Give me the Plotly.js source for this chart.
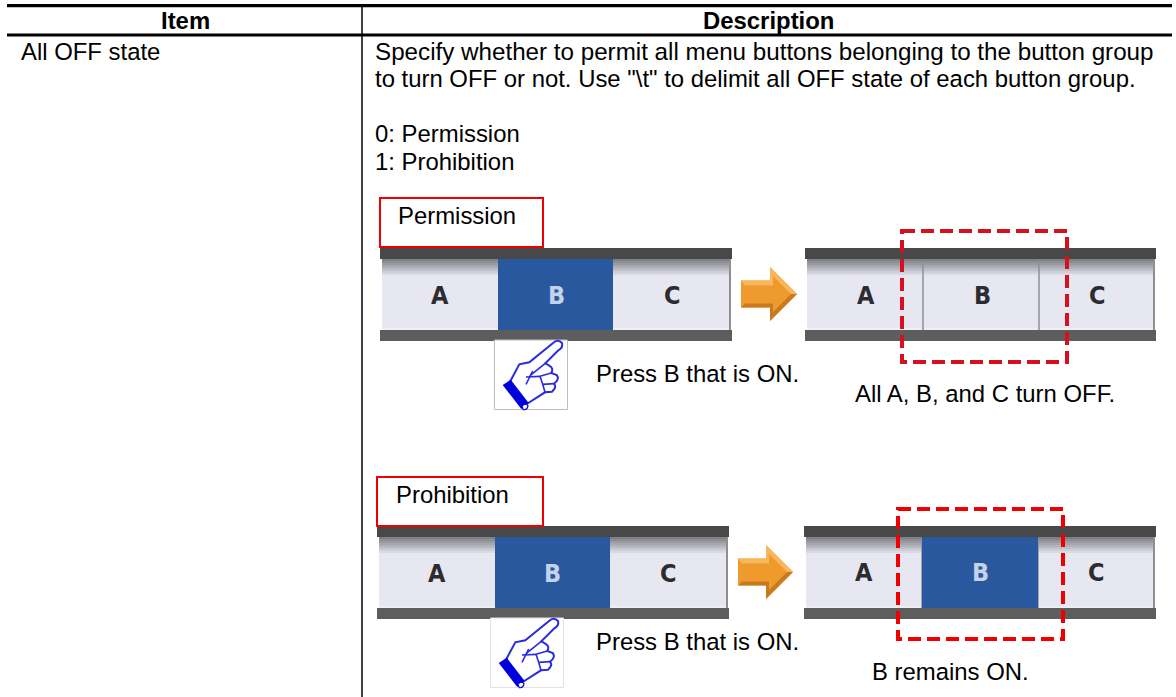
<!DOCTYPE html>
<html>
<head>
<meta charset="utf-8">
<script src="https://cdn.plot.ly/plotly-3.0.1.min.js"></script>
<style>html,body{margin:0;padding:0;background:#fff}#c{width:1176px;height:697px}</style>
</head>
<body>
<div id="c"></div>
<script>
// ---- content ----
const headerLabels = ["Item", "Description"];
const itemLabels = ["All OFF state"];
const descriptionLines = [
  "Specify whether to permit all menu buttons belonging to the button group",
  "to turn OFF or not. Use \"\\t\" to delimit all OFF state of each button group.",
  "0: Permission",
  "1: Prohibition"
];
const caseLabels = ["Permission", "Prohibition"];
const buttonLabels = ["A", "B", "C"];
const pressLabel = "Press B that is ON.";
const resultLabels = ["All A, B, and C turn OFF.", "B remains ON."];

// ---- drawing helpers ----
const shapes = [], annotations = [];
const FONT = "Liberation Sans, Arial, sans-serif";
function rect(x0, y0, x1, y1, fill, line, width, dash) {
  shapes.push({type:"rect", xref:"x", yref:"y", x0, y0, x1, y1,
    fillcolor: fill || "rgba(0,0,0,0)",
    line: {color: line || "rgba(0,0,0,0)", width: line ? (width || 1) : 0, dash: dash || "solid"}});
}
function seg(x0, y0, x1, y1, color, width) {
  shapes.push({type:"line", xref:"x", yref:"y", x0, y0, x1, y1, line:{color, width}});
}
function path(d, fill, line, width) {
  shapes.push({type:"path", xref:"x", yref:"y", path:d,
    fillcolor: fill || "rgba(0,0,0,0)",
    line: {color: line || "rgba(0,0,0,0)", width: line ? (width || 1) : 0}});
}
function text(str, x, y, opts) {
  opts = opts || {};
  annotations.push({xref:"x", yref:"y", x, y, text:str, showarrow:false, borderpad:0, borderwidth:0,
    xanchor: opts.anchor || "left", yanchor:"middle",
    font:{family: opts.family || FONT, size: opts.size || 23.9, color: opts.color || "#000"}});
}
function mix(a, b, t) {
  const r = a.map((v, i) => Math.round(v + (b[i] - v) * t));
  return "rgb(" + r.join(",") + ")";
}

function button(x0, x1, y0, y1) {
  rect(x0, y0, x1, y1, "#e6e7f0");
  const steps = 9;
  for (let i = 0; i < steps; i++) {
    rect(x0, y0 + i * 2, x1, y0 + (i + 1) * 2, mix([128,129,134], [230,231,240], i / (steps - 1)));
  }
  seg(x0, y1 - 1, x1, y1 - 1, "#f6f6fa", 1);
}
function bar(x0, x1, y0, seps, on) {
  rect(x0, y0, x1, y0 + 11, "#484848");
  rect(x0, y0 + 82, x1, y0 + 93, "#5d5d5d");
  const edges = [x0 + 2].concat(seps, [x1 - 3]);
  for (let i = 0; i < 3; i++) {
    const a = edges[i], b = edges[i + 1];
    if (on && i === 1) rect(a, y0 + 11, b, y0 + 82, "#2a589f");
    else button(a, b, y0 + 11, y0 + 82);
  }
  if (!on) seps.forEach(s => seg(s, y0 + 12, s, y0 + 82, "#8e8f96", 1.5));
  rect(x1 - 3, y0 + 11, x1 - 1, y0 + 82, "#8e8f96");
}
function arrow(x0, yc, tip) {
  const sx = tip - 27, h = 27, s = 13.5;
  path(`M ${x0} ${yc-s} L ${sx} ${yc-s} L ${sx} ${yc-h} L ${tip} ${yc} L ${sx} ${yc+h} L ${sx} ${yc+s} L ${x0} ${yc+s} Z`, "#ef9a2d");
  path(`M ${x0} ${yc-s} L ${sx} ${yc-s} L ${sx} ${yc-h} L ${tip} ${yc} L ${tip-6} ${yc} L ${sx+3} ${yc-h+9} L ${sx+3} ${yc-s+5} L ${x0+4} ${yc-s+5} Z`, "#f7b75a");
  path(`M ${x0} ${yc+s} L ${sx} ${yc+s} L ${sx} ${yc+h} L ${tip} ${yc} L ${tip-6} ${yc} L ${sx+3} ${yc+h-9} L ${sx+3} ${yc+s-4} L ${x0+4} ${yc+s-4} Z`, "#c97a20");
}
function hand(ox, oy, boxColor) {
  // Outline points are written at 3x relative to the icon's corner.
  const p = (x, y) => (ox + x / 3).toFixed(1) + " " + (oy + y / 3).toFixed(1);
  rect(ox + 4.5, oy + 5, ox + 77.5, oy + 74.5, "#ffffff", boxColor, 1);
  const blue = "#2a2adf";
  path(`M ${p(60,140)} L ${p(88,88)} L ${p(118,82)} L ${p(192,22)} Q ${p(205,12)} ${p(216,24)} Q ${p(220,38)} ${p(205,46)} L ${p(166,85)} ` +
       `L ${p(178,92)} Q ${p(192,100)} ${p(184,114)} L ${p(200,120)} Q ${p(210,132)} ${p(192,146)} Q ${p(202,156)} ${p(186,170)} ` +
       `L ${p(165,172)} L ${p(110,207)} Z`, "#ffffff", blue, 2);
  [[[120,122],[166,85]], [[128,108],[108,148]], [[108,126],[150,124]], [[150,124],[184,114]],
   [[150,124],[158,148]], [[158,148],[192,146]], [[158,148],[165,172]]].forEach(l => {
    seg(ox + l[0][0]/3, oy + l[0][1]/3, ox + l[1][0]/3, oy + l[1][1]/3, blue, 1.6);
  });
  path(`M ${p(38,150)} L ${p(62,134)} L ${p(116,204)} L ${p(94,222)} Z`, "#0000dc");
  path(`M ${p(96,214)} Q ${p(105,202)} ${p(114,212)} Q ${p(112,226)} ${p(100,224)} Z`, "#ffffff", "#0000dc", 1.2);
}

// ---- table rules ----
seg(7, 5.6, 1172, 5.6, "#000", 3.3);
seg(7, 35, 1172, 35, "#000", 3.2);
seg(362, 5, 362, 697, "#000", 1.5);
text("<b>" + headerLabels[0] + "</b>", 185, 20, {anchor:"center"});
text("<b>" + headerLabels[1] + "</b>", 768.5, 20, {anchor:"center"});
text(itemLabels[0], 21, 51);
text(descriptionLines[0], 375, 51, {size:24.2});
text(descriptionLines[1], 375, 78);
text(descriptionLines[2], 375, 133);
text(descriptionLines[3], 375, 161);

// ---- first case ----
bar(380, 732, 248, [498, 613], true);
bar(805, 1156, 248, [923, 1039], false);
arrow(741, 294, 797);
rect(380, 198, 543, 247, "rgba(0,0,0,0)", "#f00000", 2);
hand(490, 335, "#bdbdbd");
rect(902, 231, 1067, 362, "rgba(0,0,0,0)", "#d7101f", 4, "13px,6px");

// ---- second case ----
bar(377, 729, 526, [495, 610], true);
bar(804, 1156, 526, [922, 1038], false);
rect(922, 537, 1038, 608, "#2a589f");
arrow(738, 572, 793);
rect(377, 477, 543, 526, "rgba(0,0,0,0)", "#f00000", 2);
hand(486, 613, "#e2e2e2");
rect(898, 509, 1063, 639, "rgba(0,0,0,0)", "#f00000", 4, "13px,6px");

// ---- labels ----
text(caseLabels[0], 397.5, 215);
text(caseLabels[1], 396, 494);
text(pressLabel, 595.5, 373);
text(pressLabel, 595.5, 641);
text(resultLabels[0], 854.5, 393);
text(resultLabels[1], 872, 671);

const LETTER = "DejaVu Sans Condensed, DejaVu Sans, sans-serif";
const DARK = "#2c2c30", PALE = "#c2d3ea";
[[[440,295],[556,295],[672,295]], [[437,573],[552,573],[668,573]],
 [[866,295],[982,295],[1097,295]], [[864,572],[980,572],[1096,572]]].forEach((row, r) => {
  row.forEach((pos, i) => {
    const lit = i === 1 && r !== 2;
    text("<b>" + buttonLabels[i] + "</b>", pos[0], pos[1], {anchor:"center", family:LETTER, size:25, color: lit ? PALE : DARK});
  });
});

const layout = {
  width:1176, height:697, margin:{l:0, r:0, t:0, b:0},
  paper_bgcolor:"#fff", plot_bgcolor:"#fff", showlegend:false,
  xaxis:{range:[0,1176], visible:false, fixedrange:true},
  yaxis:{range:[697,0], visible:false, fixedrange:true},
  shapes, annotations
};
Plotly.newPlot("c", [], layout, {displayModeBar:false, staticPlot:true});
</script>
</body>
</html>
